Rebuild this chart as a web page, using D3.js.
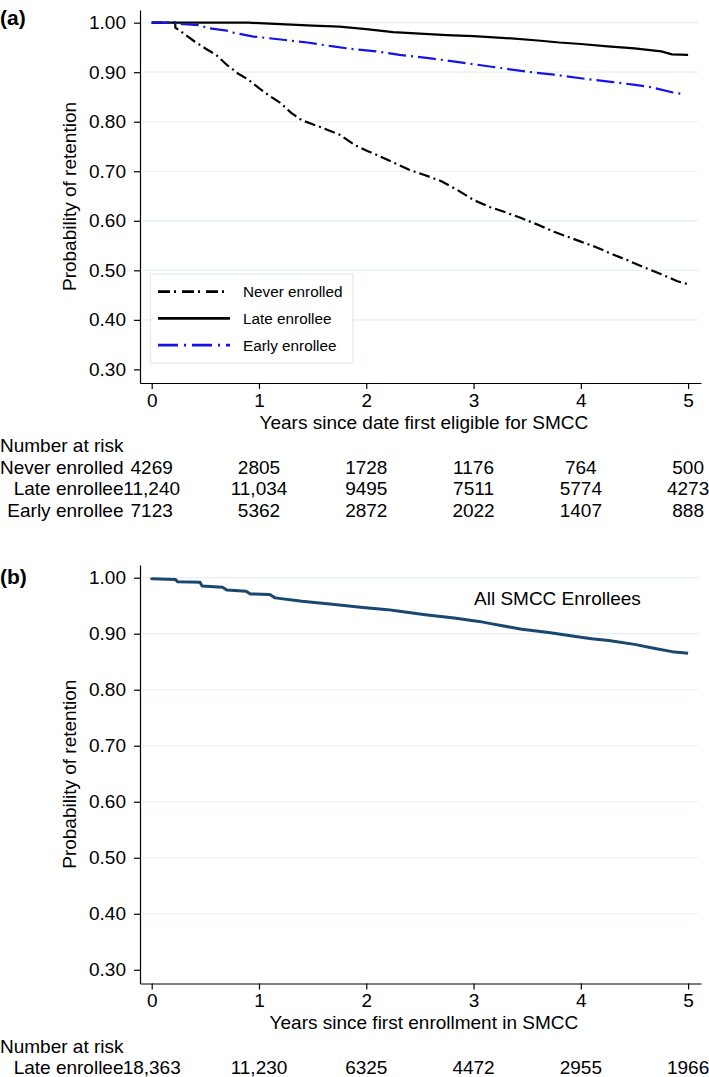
<!DOCTYPE html>
<html>
<head>
<meta charset="utf-8">
<script src="https://cdn.jsdelivr.net/npm/d3@7"></script>
<style>
  body { margin: 0; background: #fff; }
  svg { display: block; font-family: "Liberation Sans", Arial, sans-serif; }
  .axis path, .axis line { stroke: #000; stroke-width: 1.2; }
  .axis text { font-size: 19px; fill: #000; }
</style>
</head>
<body>
<div id="chart"></div>
<script>
// ---- data ----
const neverT = [0, 0.22, 0.22, 0.30, 0.40, 0.50, 0.60, 0.70, 0.80, 0.90, 1.00, 1.10, 1.20, 1.30, 1.40, 1.50, 1.60, 1.75, 1.90, 2.00, 2.10, 2.25, 2.40, 2.55, 2.70, 2.85, 3.00, 3.15, 3.30, 3.45, 3.60, 3.75, 3.90, 4.00, 4.15, 4.30, 4.45, 4.60, 4.75, 4.90, 5.00];
const neverS = [1.000, 1.000, 0.990, 0.978, 0.962, 0.948, 0.935, 0.915, 0.898, 0.885, 0.868, 0.852, 0.838, 0.818, 0.803, 0.795, 0.787, 0.774, 0.752, 0.742, 0.733, 0.718, 0.703, 0.692, 0.680, 0.662, 0.642, 0.628, 0.617, 0.605, 0.592, 0.578, 0.566, 0.558, 0.546, 0.532, 0.519, 0.505, 0.492, 0.478, 0.472];

const lateT = [0, 0.90, 1.20, 1.50, 1.75, 2.00, 2.25, 2.50, 2.75, 3.00, 3.30, 3.60, 3.80, 4.00, 4.25, 4.50, 4.75, 4.85, 5.00];
const lateS = [1.000, 1.000, 0.997, 0.994, 0.992, 0.987, 0.981, 0.978, 0.975, 0.973, 0.969, 0.964, 0.960, 0.957, 0.952, 0.948, 0.942, 0.936, 0.935];

const earlyT = [0, 0.22, 0.22, 0.45, 0.52, 0.70, 0.76, 0.95, 1.20, 1.45, 1.69, 1.90, 2.10, 2.31, 2.60, 2.94, 3.20, 3.50, 3.75, 4.06, 4.30, 4.49, 4.65, 4.86, 4.95];
const earlyS = [1.000, 1.000, 0.998, 0.995, 0.989, 0.984, 0.980, 0.972, 0.966, 0.960, 0.952, 0.946, 0.942, 0.935, 0.928, 0.918, 0.910, 0.901, 0.895, 0.886, 0.880, 0.875, 0.870, 0.859, 0.856];

const allT = [0, 0, 0.22, 0.24, 0.45, 0.47, 0.66, 0.70, 0.88, 0.92, 1.10, 1.15, 1.40, 1.66, 1.97, 2.20, 2.31, 2.55, 2.82, 3.05, 3.16, 3.45, 3.70, 3.92, 4.10, 4.26, 4.50, 4.68, 4.85, 5.00];
const allS = [1.000, 0.998, 0.997, 0.993, 0.992, 0.985, 0.983, 0.978, 0.976, 0.971, 0.970, 0.964, 0.958, 0.953, 0.947, 0.943, 0.940, 0.934, 0.928, 0.922, 0.918, 0.908, 0.902, 0.896, 0.891, 0.888, 0.881, 0.874, 0.868, 0.865];

const yTicks = [0.30, 0.40, 0.50, 0.60, 0.70, 0.80, 0.90, 1.00];
const xTicks = [0, 1, 2, 3, 4, 5];

const riskLabelsA = ["Never enrolled", "Late enrollee", "Early enrollee"];
const riskNever = ["4269", "2805", "1728", "1176", "764", "500"];
const riskLate = ["11,240", "11,034", "9495", "7511", "5774", "4273"];
const riskEarly = ["7123", "5362", "2872", "2022", "1407", "888"];
const riskLabelsB = ["Late enrollee"];
const riskAll = ["18,363", "11,230", "6325", "4472", "2955", "1966"];

const W = 709, H = 1077;
const svg = d3.select("#chart").append("svg")
  .attr("width", W).attr("height", H);
svg.append("rect").attr("width", W).attr("height", H).attr("fill", "#fff");

const x = d3.scaleLinear().domain([-0.109, 5.12]).range([140, 701]);
const fmt = d3.format(".2f");

function panel(opts) {
  const y = d3.scaleLinear().domain([opts.yMin, opts.yMax]).range([opts.bottom, opts.top]);
  const g = svg.append("g");

  // gridlines
  g.selectAll("line.grid")
    .data(yTicks.filter(d => d > 0.3))
    .enter().append("line")
    .attr("class", "grid")
    .attr("x1", 142).attr("x2", 698)
    .attr("y1", d => y(d)).attr("y2", d => y(d))
    .attr("stroke", "#e6eff1").attr("stroke-width", 1.2);

  g.append("g").attr("class", "axis")
    .attr("transform", "translate(140,0)")
    .call(d3.axisLeft(y).tickValues(yTicks).tickFormat(fmt).tickSize(6).tickSizeOuter(0).tickPadding(8))
    .call(a => a.selectAll("text").attr("font-family", null));

  g.append("g").attr("class", "axis")
    .attr("transform", `translate(0,${opts.bottom})`)
    .call(d3.axisBottom(x).tickValues(xTicks).tickFormat(d3.format("d")).tickSize(6).tickSizeOuter(0).tickPadding(4.5))
    .call(a => a.selectAll("text").attr("font-family", null));

  g.selectAll(".axis .domain").attr("stroke-width", 1.3);

  g.append("text")
    .attr("transform", `translate(76,${(opts.top + opts.bottom) / 2}) rotate(-90)`)
    .attr("text-anchor", "middle")
    .attr("font-size", 19)
    .text("Probability of retention");

  g.append("text")
    .attr("x", (x(0) + x(5)) / 2 + 4)
    .attr("y", opts.bottom + 45.5)
    .attr("text-anchor", "middle")
    .attr("font-size", 19)
    .text(opts.xTitle);

  g.append("text")
    .attr("x", 0).attr("y", opts.labelY)
    .attr("font-size", 21).attr("font-weight", "bold")
    .text(opts.panelLabel);

  const line = d3.line()
    .x(d => x(d[0])).y(d => y(d[1]));

  opts.series.forEach(s => {
    g.append("path")
      .datum(d3.zip(s.t, s.s))
      .attr("d", line)
      .attr("fill", "none")
      .attr("stroke", s.color)
      .attr("stroke-width", s.width)
      .attr("stroke-linejoin", "round")
      .attr("stroke-dasharray", s.dash);
  });

  // number at risk table
  const tableTop = opts.bottom + 69;
  g.append("text")
    .attr("x", 0).attr("y", tableTop)
    .attr("font-size", 19)
    .text("Number at risk");

  opts.risk.forEach((r, i) => {
    const ry = tableTop + 21.6 * (i + 1);
    g.append("text")
      .attr("x", 123.5).attr("y", ry)
      .attr("text-anchor", "end")
      .attr("font-size", 19)
      .text(r.label);
    g.selectAll(null)
      .data(r.values)
      .enter().append("text")
      .attr("x", (d, j) => x(xTicks[j]))
      .attr("y", ry)
      .attr("text-anchor", "middle")
      .attr("font-size", 19)
      .text(d => d);
  });

  return { g, y };
}

const seriesA = [
  { name: "Never enrolled", t: neverT, s: neverS, color: "#000", width: 2.2, dash: "11,4,2,4" },
  { name: "Late enrollee", t: lateT, s: lateS, color: "#000", width: 2.2, dash: null },
  { name: "Early enrollee", t: earlyT, s: earlyS, color: "#1414e6", width: 2.2, dash: "18,5,2,5" }
];

const pa = panel({
  top: 10, bottom: 383, yMin: 0.2725, yMax: 1.0256,
  xTitle: "Years since date first eligible for SMCC",
  panelLabel: "(a)", labelY: 25,
  series: seriesA,
  risk: [
    { label: riskLabelsA[0], values: riskNever },
    { label: riskLabelsA[1], values: riskLate },
    { label: riskLabelsA[2], values: riskEarly }
  ]
});

// legend for panel (a)
const leg = pa.g.append("g");
leg.append("rect")
  .attr("x", 150.5).attr("y", 274)
  .attr("width", 202.5).attr("height", 89)
  .attr("fill", "#fff").attr("stroke", "#e2ebee").attr("stroke-width", 1.2);
const legDash = ["12,4,2,6", null, "20,6,2,6"];
seriesA.forEach((s, i) => {
  const ly = 291.7 + 26.7 * i;
  leg.append("line")
    .attr("x1", 158).attr("x2", 230)
    .attr("y1", ly).attr("y2", ly)
    .attr("stroke", s.color).attr("stroke-width", 2.7)
    .attr("stroke-dasharray", legDash[i]);
  leg.append("text")
    .attr("x", 243).attr("y", ly + 5.5)
    .attr("font-size", 15.3)
    .text(s.name);
});

const pb = panel({
  top: 565, bottom: 983.5, yMin: 0.2755, yMax: 1.0227,
  xTitle: "Years since first enrollment in SMCC",
  panelLabel: "(b)", labelY: 584,
  series: [{ name: "All SMCC Enrollees", t: allT, s: allS, color: "#1a476f", width: 3, dash: null }],
  risk: [{ label: riskLabelsB[0], values: riskAll }]
});

pb.g.append("text")
  .attr("x", 474).attr("y", 605)
  .attr("font-size", 19)
  .text("All SMCC Enrollees");
</script>
</body>
</html>
